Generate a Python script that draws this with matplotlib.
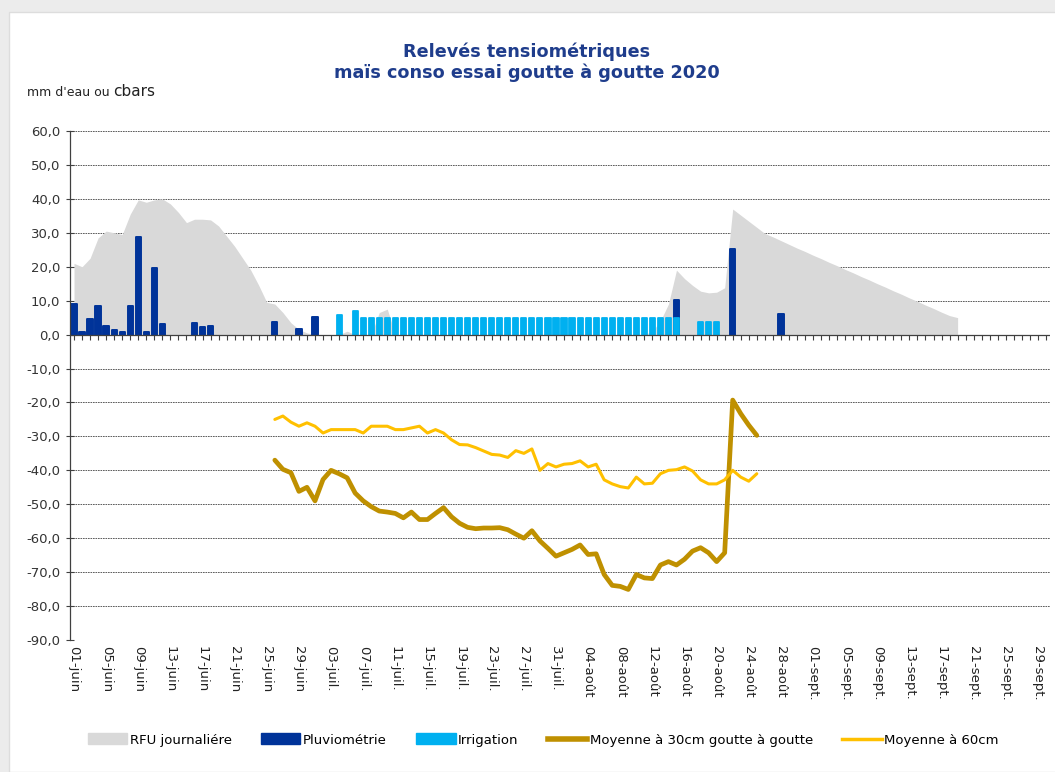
import numpy as np
import pandas as pd
import matplotlib
matplotlib.use("Agg")
import matplotlib.pyplot as plt
from matplotlib.patches import Patch, Rectangle
from matplotlib.lines import Line2D

# axe des dates : 01-juin -> 30-sept
dates = pd.date_range("2020-06-01", "2020-09-30", freq="D")
mois = {6: "juin", 7: "juil.", 8: "août", 9: "sept."}

# RFU journaliere (mm), a partir du 01-juin
rfu = [21, 20, 22.5, 28.5, 30.5, 30, 29.5, 35.5, 39.7, 39,          # 01-10 juin
       39.7, 40, 38.5, 36, 33, 34, 34, 33.8, 32, 29,                # 11-20 juin
       26, 22.5, 19, 14.5, 9.5, 9, 6.5, 3.5, 1.5, 0.5,              # 21-30 juin
       0, 0, 0, 0, 1, 0, 0, 0, 6.5, 7.5,                            # 01-10 juil.
       0, 0, 0, 0, 0, 0, 0, 0, 0, 0,                                # 11-20 juil.
       0, 0, 0, 0, 0, 0, 0, 0, 0, 0, 0,                             # 21-31 juil.
       0, 0, 0, 0, 0, 0, 0, 0, 0, 0,                                # 01-10 août
       0, 1, 4, 9, 19, 16.5, 14.5, 12.8, 12.3, 12.5,                # 11-20 août
       13.8, 37, 35.2, 33.4, 31.6, 29.8, 28.8, 27.7, 26.6, 25.5, 24.5,  # 21-31 août
       23.4, 22.4, 21.3, 20.3, 19.2, 18.2, 17.1, 16.1, 15, 14,      # 01-10 sept.
       12.9, 11.9, 10.8, 9.8, 8.7, 7.7, 6.6, 5.6, 5]                # 11-19 sept.

# Pluviometrie (mm)
pluvio_dates = ["2020-06-01", "2020-06-02", "2020-06-03", "2020-06-04", "2020-06-05",
                "2020-06-06", "2020-06-07", "2020-06-08", "2020-06-09", "2020-06-10",
                "2020-06-11", "2020-06-12", "2020-06-16", "2020-06-17", "2020-06-18",
                "2020-06-26", "2020-06-29", "2020-07-01", "2020-08-15", "2020-08-22",
                "2020-08-28"]
pluvio_mm = [9, 0.7, 4.5, 8.3, 2.5, 1.3, 0.7, 8.3, 28.7, 0.7,
             19.5, 3.2, 3.5, 2.2, 2.6, 3.6, 1.6, 5.1, 10.3, 25.1,
             6.1]

# Irrigation (mm), du 04-juil. au 21-août
irrig_debut = "2020-07-04"
irrig_mm = [5.8, 0, 7, 5, 5, 5, 5, 5, 5, 5,
            5, 5, 5, 5, 5, 5, 5, 5, 5, 5,
            5, 5, 5, 5, 5, 5, 5, 5, 5, 5,
            5, 5, 5, 5, 5, 5, 5, 5, 5, 5,
            5, 5, 5, 0, 0, 3.7, 3.7, 3.7]

# tensiometres (cbars), du 26-juin au 25-août
tens_debut = "2020-06-26"
tens_30 = [-37, -39.7, -40.7, -46.2, -45, -49, -42.7, -40, -41, -42.2,
           -46.7, -49, -50.7, -52, -52.3, -52.7, -54, -52.3, -54.5, -54.5,
           -52.7, -51, -53.7, -55.6, -56.8, -57.2, -57, -57, -56.9, -57.5,
           -58.8, -60, -57.8, -60.8, -63, -65.3, -64.3, -63.3, -62, -64.8,
           -64.6, -70.7, -73.9, -74.2, -75.1, -70.7, -71.7, -71.9, -67.9, -66.9,
           -67.9, -66.2, -63.8, -62.8, -64.3, -66.9, -64.3, -19.3, -23.3, -26.7,
           -29.7]
tens_60 = [-25, -24, -25.8, -27, -26, -27, -29, -28, -28, -28,
           -28, -29, -27, -27, -27, -28, -28, -27.5, -27, -29,
           -28, -29, -31, -32.4, -32.5, -33.3, -34.3, -35.3, -35.5, -36.2,
           -34.2, -35, -33.7, -40, -38, -39, -38.2, -38, -37.2, -39,
           -38.2, -42.8, -44, -44.8, -45.2, -42, -44, -43.8, -41, -40,
           -39.8, -39, -40.2, -42.8, -44, -44, -42.8, -40, -42, -43.2,
           -41]

C_RFU = "#D9D9D9"
C_PLUV = "#003399"
C_IRR = "#00B0F0"
C_30 = "#BF9000"
C_60 = "#FFC000"


def jour(d):
    return (pd.Timestamp(d) - dates[0]).days


fig = plt.figure(figsize=(10.55, 7.72), dpi=100)
fig.patch.set_facecolor("#ECECEC")
fig.patches.append(Rectangle((9 / 1055, 0), 1.0, 1 - 12 / 772, transform=fig.transFigure,
                             facecolor="white", edgecolor="#DDDDDD", lw=1, zorder=-5))

ax = fig.add_axes([70 / 1055, 1 - 640 / 772, 980 / 1055, 509 / 772])
ax.set_facecolor("white")

# RFU
x_rfu = np.arange(len(rfu))
ax.fill_between(x_rfu, 0, rfu, color=C_RFU, lw=0, zorder=1)

# pluie
x_pl = [jour(d) for d in pluvio_dates]
ax.bar(x_pl, pluvio_mm, width=0.66, color=C_PLUV, edgecolor=C_PLUV, lw=1.4,
       joinstyle="round", zorder=2)

# irrigation
x_ir = np.arange(len(irrig_mm)) + jour(irrig_debut)
irr = np.array(irrig_mm, dtype=float)
ok = irr > 0
ax.bar(x_ir[ok], irr[ok], width=0.64, color=C_IRR, edgecolor=C_IRR, lw=1.3,
       joinstyle="round", zorder=3)

# tensiometres
x_t = np.arange(len(tens_30)) + jour(tens_debut)
ax.plot(x_t, tens_30, color=C_30, lw=3.4, solid_joinstyle="round", solid_capstyle="round", zorder=4)
ax.plot(x_t, tens_60, color=C_60, lw=2.2, solid_joinstyle="round", solid_capstyle="round", zorder=5)

# axe 0 avec graduations journalieres
ax.axhline(0, color="#404040", lw=0.9, zorder=3.5)
ax.plot(np.arange(len(dates)), np.zeros(len(dates)), ls="none", marker=3, ms=3.5,
        mew=0.8, color="#404040", zorder=3.5)

ax.set_xlim(-0.5, len(dates) - 0.5)
ax.set_ylim(-90, 60)
yt = np.arange(-90, 61, 10)
ax.set_yticks(yt)
ax.set_yticklabels([f"{v:.1f}".replace(".", ",") for v in yt], fontsize=9.5, color="#333333")
ax.grid(axis="y", ls=(0, (2, 1)), lw=0.6, color="#444444")
ax.set_axisbelow(True)

xt = np.arange(0, len(dates), 4)
ax.set_xticks(xt)
ax.set_xticklabels([f"{dates[i].day:02d}-{mois[dates[i].month]}" for i in xt],
                   rotation=-90, fontsize=9.5, color="#222222")
ax.tick_params(axis="x", length=0, pad=4)
ax.tick_params(axis="y", direction="inout", length=6, width=0.8, color="#404040", pad=4)

for s in ["top", "right", "bottom"]:
    ax.spines[s].set_visible(False)
ax.spines["left"].set_color("#404040")
ax.spines["left"].set_linewidth(0.9)

fig.text(527 / 1055, 1 - 62 / 772, "Relevés tensiométriques\nmaïs conso essai goutte à goutte 2020",
         ha="center", va="center", fontsize=12.7, fontweight="bold", color="#1F3D8C", linespacing=1.15)
t1 = fig.text(27 / 1055, 1 - 96 / 772, "mm d'eau ou ", fontsize=9, color="#222222")
ax.annotate("cbars", xy=(1, 0), xycoords=t1, va="bottom", fontsize=11, color="#222222")

handles = [Patch(color=C_RFU), Patch(color=C_PLUV), Patch(color=C_IRR),
           Line2D([], [], color=C_30, lw=4), Line2D([], [], color=C_60, lw=2.5)]
labels = ["RFU journaliére", "Pluviométrie", "Irrigation",
          "Moyenne à 30cm goutte à goutte", "Moyenne à 60cm"]
fig.legend(handles, labels, loc="center", bbox_to_anchor=(0.515, 1 - 740 / 772), ncol=5,
           frameon=False, fontsize=9.5, handlelength=3, handleheight=0.9,
           handletextpad=0.2, columnspacing=2.2)

fig.savefig("out.png", dpi=100, facecolor=fig.get_facecolor())
